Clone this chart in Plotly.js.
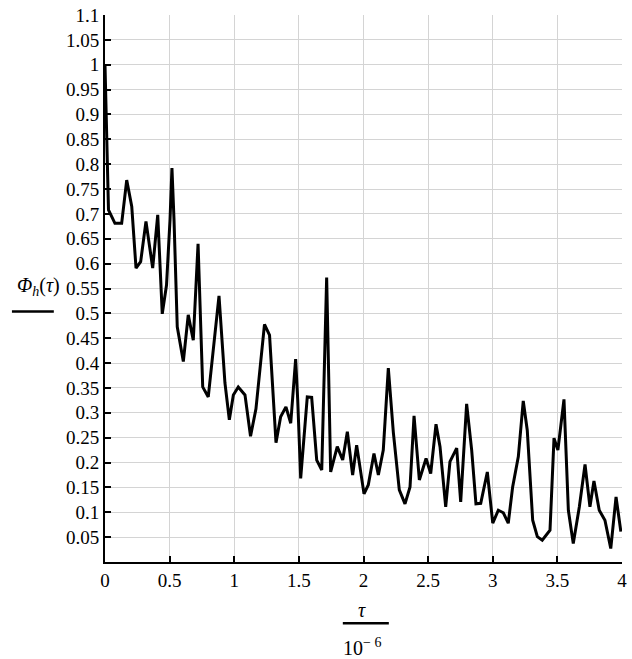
<!DOCTYPE html>
<html>
<head>
<meta charset="utf-8">
<script src="https://cdn.plot.ly/plotly-3.0.1.min.js"></script>
<style>
html,body{margin:0;padding:0;background:#fff;}
#chart{width:632px;height:659px;}
</style>
</head>
<body>
<div id="chart"></div>
<script>
// tau / 1e-6
const tau = [0, 0.012, 0.027, 0.077, 0.129, 0.168, 0.207, 0.240, 0.276, 0.317,
  0.369, 0.408, 0.443, 0.476, 0.503, 0.518, 0.534, 0.559, 0.606, 0.644,
  0.683, 0.720, 0.756, 0.799, 0.882, 0.928, 0.962, 0.993, 1.031, 1.083,
  1.126, 1.168, 1.234, 1.273, 1.323, 1.359, 1.400, 1.437, 1.475, 1.491,
  1.514, 1.565, 1.599, 1.638, 1.677, 1.715, 1.746, 1.797, 1.839, 1.875,
  1.916, 1.947, 2.004, 2.037, 2.081, 2.115, 2.153, 2.192, 2.231, 2.277,
  2.321, 2.360, 2.391, 2.432, 2.484, 2.520, 2.561, 2.592, 2.636, 2.669,
  2.721, 2.752, 2.798, 2.837, 2.870, 2.907, 2.958, 3.000, 3.043, 3.082,
  3.120, 3.154, 3.198, 3.236, 3.267, 3.309, 3.345, 3.383, 3.443, 3.474,
  3.504, 3.551, 3.585, 3.623, 3.670, 3.714, 3.752, 3.783, 3.824, 3.868,
  3.913, 3.954, 3.991];
// Phi_h(tau)
const phi = [1.00, 0.84, 0.708, 0.681, 0.681, 0.768, 0.715, 0.591, 0.604, 0.685,
  0.591, 0.698, 0.499, 0.557, 0.688, 0.792, 0.688, 0.473, 0.403, 0.497,
  0.446, 0.640, 0.352, 0.332, 0.535, 0.36, 0.286, 0.336, 0.352, 0.336,
  0.253, 0.308, 0.478, 0.456, 0.240, 0.292, 0.312, 0.279, 0.408, 0.326,
  0.168, 0.332, 0.331, 0.205, 0.185, 0.572, 0.181, 0.232, 0.205, 0.262,
  0.175, 0.235, 0.137, 0.155, 0.218, 0.175, 0.225, 0.390, 0.26, 0.145,
  0.117, 0.151, 0.294, 0.165, 0.208, 0.178, 0.277, 0.232, 0.111, 0.202,
  0.229, 0.121, 0.318, 0.225, 0.117, 0.118, 0.181, 0.078, 0.104, 0.099,
  0.078, 0.151, 0.212, 0.324, 0.265, 0.084, 0.051, 0.044, 0.064, 0.249,
  0.225, 0.327, 0.104, 0.037, 0.111, 0.196, 0.111, 0.163, 0.104, 0.084,
  0.027, 0.131, 0.061];

const xTickVals = [0, 0.5, 1, 1.5, 2, 2.5, 3, 3.5, 4];
const xTickText = ["0", "0.5", "1", "1.5", "2", "2.5", "3", "3.5", "4"];
const yTickVals = [0, 0.05, 0.1, 0.15, 0.2, 0.25, 0.3, 0.35, 0.4, 0.45, 0.5, 0.55,
  0.6, 0.65, 0.7, 0.75, 0.8, 0.85, 0.9, 0.95, 1, 1.05, 1.1];
const yTickText = ["", "0.05", "0.1", "0.15", "0.2", "0.25", "0.3", "0.35", "0.4", "0.45", "0.5", "0.55",
  "0.6", "0.65", "0.7", "0.75", "0.8", "0.85", "0.9", "0.95", "1", "1.05", "1.1"];

const serif = "Liberation Serif";

const trace = {
  x: tau, y: phi, type: "scatter", mode: "lines",
  line: {color: "#000000", width: 3},
  hoverinfo: "skip"
};

const layout = {
  width: 632, height: 659,
  margin: {l: 105, r: 10, t: 15, b: 97},
  paper_bgcolor: "#ffffff", plot_bgcolor: "#ffffff",
  showlegend: false,
  font: {family: serif, size: 19, color: "#000000"},
  xaxis: {
    range: [0, 4], tickvals: xTickVals, ticktext: xTickText,
    showgrid: true, gridcolor: "#d4d4d4", gridwidth: 1,
    zeroline: false, showline: true, linecolor: "#000", linewidth: 2,
    ticks: "inside", ticklen: 6, tickwidth: 2, tickcolor: "#000",
    fixedrange: true
  },
  yaxis: {
    range: [0, 1.1], tickvals: yTickVals, ticktext: yTickText,
    showgrid: true, gridcolor: "#d4d4d4", gridwidth: 1,
    zeroline: false, showline: true, linecolor: "#000", linewidth: 2,
    ticks: "inside", ticklen: 6, tickwidth: 2, tickcolor: "#000",
    fixedrange: true
  },
  annotations: [
    {xref: "paper", yref: "paper", x: -0.128, y: 0.503, xanchor: "center", yanchor: "middle",
     text: "<i>Φ</i><sub><i>h</i></sub>(<i>τ</i>)", showarrow: false,
     font: {family: serif, size: 20, color: "#000"}},
    {xref: "paper", yref: "paper", x: 0.497, y: -0.088, xanchor: "center", yanchor: "middle",
     text: "<i>τ</i>", showarrow: false,
     font: {family: serif, size: 20, color: "#000"}},
    {xref: "paper", yref: "paper", x: 0.497, y: -0.155, xanchor: "center", yanchor: "middle",
     text: "10<sup>− 6</sup>", showarrow: false,
     font: {family: serif, size: 20, color: "#000"}}
  ],
  shapes: [
    {type: "line", xref: "paper", yref: "paper", x0: -0.180, x1: -0.099, y0: 0.458, y1: 0.458,
     line: {color: "#000", width: 2.5}},
    {type: "line", xref: "paper", yref: "paper", x0: 0.460, x1: 0.549, y0: -0.112, y1: -0.112,
     line: {color: "#000", width: 2.5}}
  ]
};

Plotly.newPlot("chart", [trace], layout, {staticPlot: true, displayModeBar: false});
</script>
</body>
</html>
